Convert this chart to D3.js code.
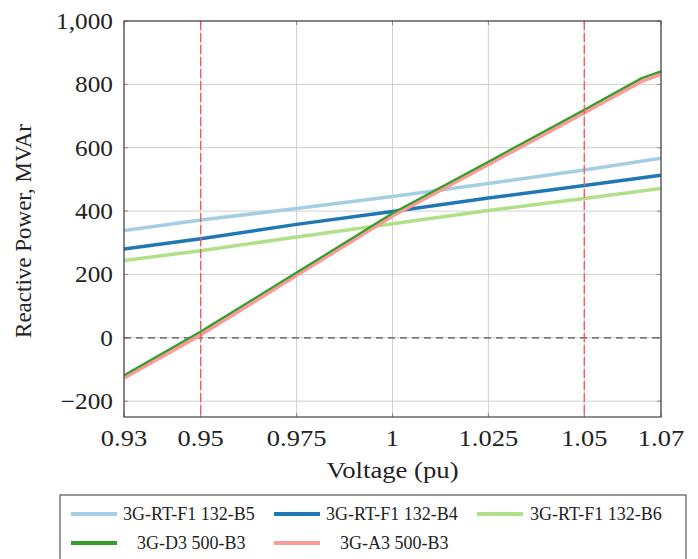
<!DOCTYPE html>
<html><head><meta charset="utf-8">
<script src="https://cdn.jsdelivr.net/npm/d3@7"></script>
<style>body{margin:0;background:#fff}svg{display:block}text{font-family:"Liberation Serif","Times New Roman",serif;fill:#222}</style>
</head><body><svg id="c" width="698" height="559"></svg>
<script>
const voltage = [0.93, 0.95, 0.975, 1.0, 1.025, 1.05, 1.07];
const b5 = [339, 372, 408, 446, 487, 530, 567];
const b4 = [280, 313, 358, 399, 441, 481, 513];
const b6 = [244, 275, 318, 360, 402, 440, 471];
const voltageSG = [0.93, 0.95, 0.975, 1.0, 1.025, 1.05, 1.065, 1.07];
const d3g = [-118, 20, 206, 393, 556, 720, 820, 841];
const a3 = [-126, 10, 198, 385, 548, 711, 811, 832];
const xTicks = [0.93, 0.95, 0.975, 1, 1.025, 1.05, 1.07];
const yTicks = [-200, 0, 200, 400, 600, 800, 1000];
const limits = [0.95, 1.05];
const seriesNames = ["3G-RT-F1 132-B5", "3G-RT-F1 132-B4", "3G-RT-F1 132-B6", "3G-D3 500-B3", "3G-A3 500-B3"];
const colors = ["#a6cee3", "#1f78b4", "#b2df8a", "#33a02c", "#fb9a99"];
const widths = [3.5, 3.5, 3.5, 2.2, 4];

const svg = d3.select("#c");
const L = 124, R = 661, T = 21, B = 417;
const x = d3.scaleLinear().domain([0.93, 1.07]).range([L, R]);
const y = d3.scaleLinear().domain([-250, 1000]).range([B, T]);

function stretch(sel, k) {
  sel.each(function () {
    const w = this.getComputedTextLength();
    d3.select(this).attr("textLength", w * k).attr("lengthAdjust", "spacingAndGlyphs");
  });
}

svg.append("rect").attr("x", L).attr("y", T).attr("width", R - L).attr("height", B - T).attr("fill", "#fff");

// grid
const g = svg.append("g");
g.selectAll(".gx").data(xTicks).join("line").attr("x1", d => x(d)).attr("x2", d => x(d)).attr("y1", T).attr("y2", B).attr("stroke", "#d0d0d0").attr("stroke-width", 1);
g.selectAll(".gy").data(yTicks).join("line").attr("y1", d => y(d)).attr("y2", d => y(d)).attr("x1", L).attr("x2", R).attr("stroke", "#d0d0d0").attr("stroke-width", 1);

// ticks inward
const tl = 4;
xTicks.forEach(t => {
  g.append("line").attr("x1", x(t)).attr("x2", x(t)).attr("y1", B).attr("y2", B - tl).attr("stroke", "#888");
  g.append("line").attr("x1", x(t)).attr("x2", x(t)).attr("y1", T).attr("y2", T + tl).attr("stroke", "#888");
});
yTicks.forEach(t => {
  g.append("line").attr("y1", y(t)).attr("y2", y(t)).attr("x1", L).attr("x2", L + tl).attr("stroke", "#888");
  g.append("line").attr("y1", y(t)).attr("y2", y(t)).attr("x1", R).attr("x2", R - tl).attr("stroke", "#888");
});

// zero dashed
svg.append("line").attr("x1", L).attr("x2", R).attr("y1", y(0)).attr("y2", y(0)).attr("stroke", "#555").attr("stroke-width", 1.2).attr("stroke-dasharray", "7,5");

// series
const line = d3.line().x(d => x(d[0])).y(d => y(d[1]));
const data = [
  voltage.map((v, i) => [v, b5[i]]),
  voltage.map((v, i) => [v, b4[i]]),
  voltage.map((v, i) => [v, b6[i]]),
  voltageSG.map((v, i) => [v, d3g[i]]),
  voltageSG.map((v, i) => [v, a3[i]])
];
svg.append("clipPath").attr("id", "pc").append("rect").attr("x", L).attr("y", T).attr("width", R - L).attr("height", B - T);
const order = [0, 1, 2, 4, 3];
order.forEach(i => {
  svg.append("path").attr("d", line(data[i])).attr("fill", "none").attr("stroke", colors[i]).attr("stroke-width", widths[i]).attr("clip-path", "url(#pc)").attr("stroke-linejoin", "round");
});

// limit dashed red
limits.forEach(v => {
  svg.append("line").attr("x1", x(v)).attr("x2", x(v)).attr("y1", T).attr("y2", B).attr("stroke", "#f25858").attr("stroke-width", 1.3).attr("stroke-dasharray", "9,3");
});

// frame
svg.append("rect").attr("x", L).attr("y", T).attr("width", R - L).attr("height", B - T).attr("fill", "none").attr("stroke", "#444").attr("stroke-width", 1.2);

// tick labels
const fmt = d3.format(",");
const xl = svg.selectAll(".xl").data(xTicks).join("text").attr("x", d => x(d)).attr("y", 446).attr("text-anchor", "middle").attr("font-size", 23).text(d => String(d));
stretch(xl, 1.15);
const yl = svg.selectAll(".yl").data(yTicks).join("text").attr("x", 113).attr("y", d => y(d) + 8).attr("text-anchor", "end").attr("font-size", 23).text(d => d < 0 ? "\u2212" + fmt(-d) : fmt(d));
stretch(yl, 1.1);

// axis titles
const xt = svg.append("text").attr("x", (L + R) / 2).attr("y", 478).attr("text-anchor", "middle").attr("font-size", 23).text("Voltage (pu)");
stretch(xt, 1.16);
svg.append("text").attr("transform", `translate(31,231) rotate(-90)`).attr("text-anchor", "middle").attr("font-size", 23).text("Reactive Power, MVAr");

// legend
svg.append("rect").attr("x", 60).attr("y", 495).attr("width", 626).attr("height", 80).attr("fill", "#fff").attr("stroke", "#555").attr("stroke-width", 1.2);
const legPos = [[71, 514, 123], [274, 514, 326], [477, 514, 530], [71, 543, 137], [274, 543, 340]];
seriesNames.forEach((n, i) => {
  const [lx, ly, tx] = legPos[i];
  svg.append("line").attr("x1", lx).attr("x2", lx + 46).attr("y1", ly).attr("y2", ly).attr("stroke", colors[i]).attr("stroke-width", 4);
  svg.append("text").attr("x", tx).attr("y", ly + 6).attr("font-size", 18).text(n);
});
</script></body></html>
